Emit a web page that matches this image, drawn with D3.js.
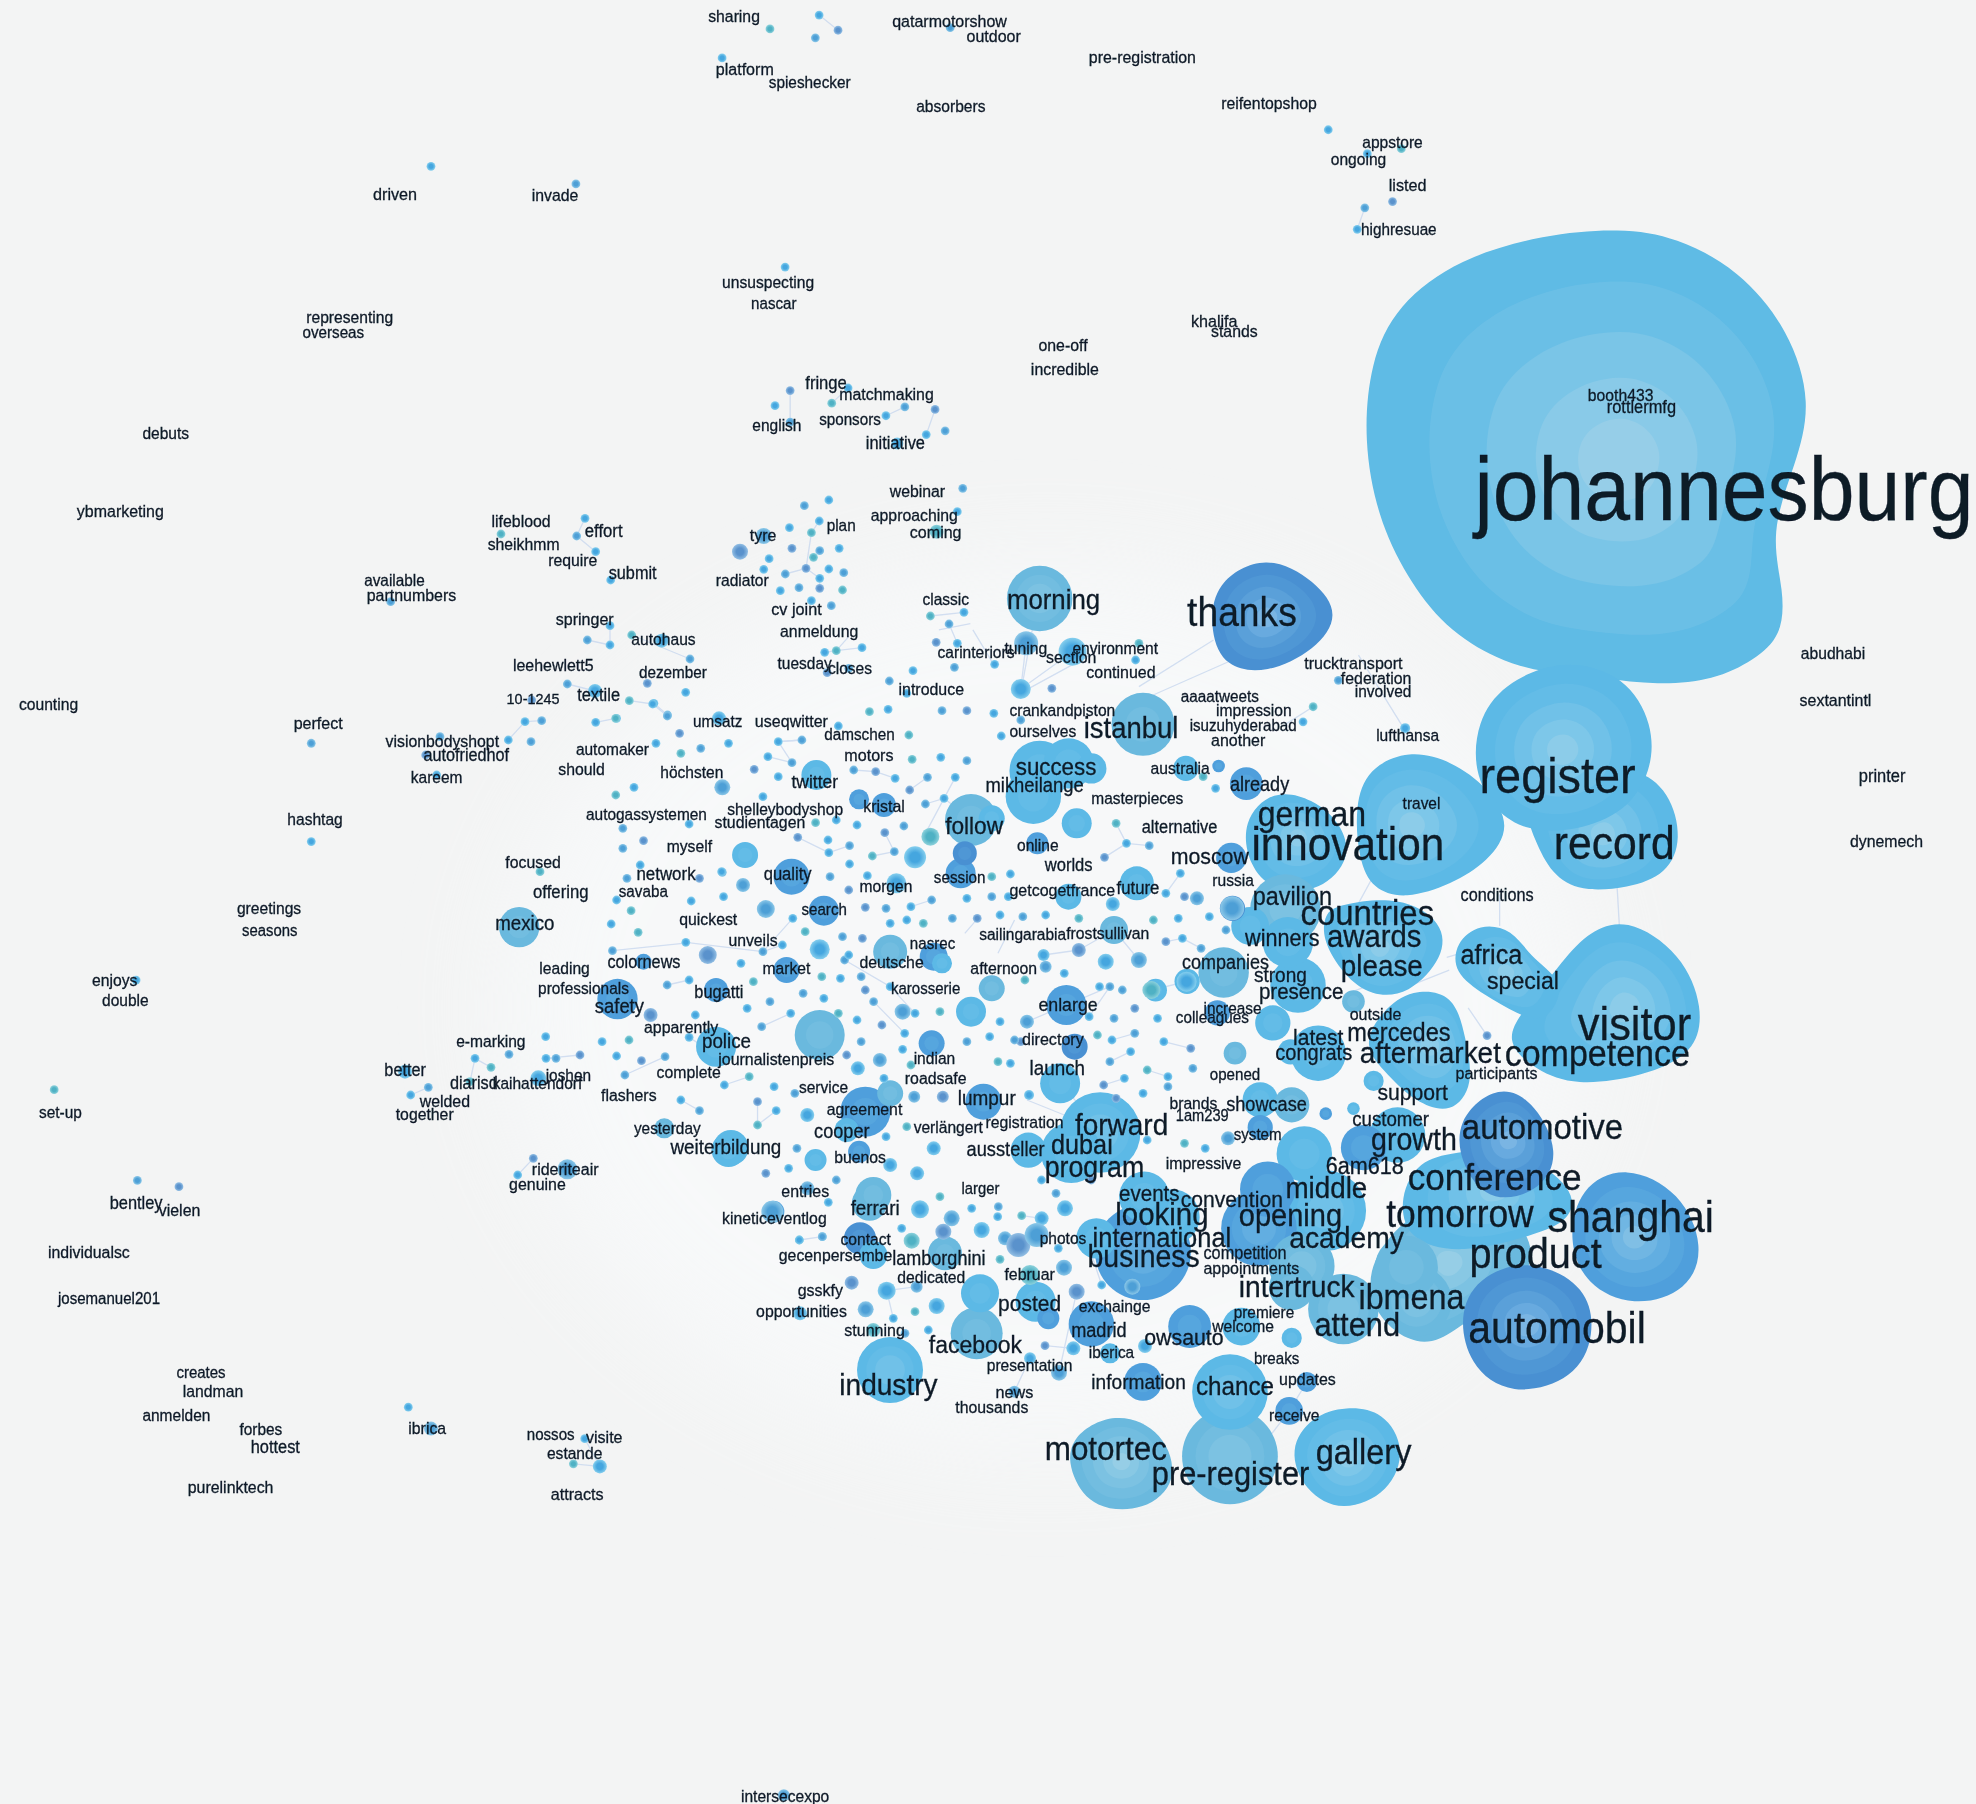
<!DOCTYPE html>
<html><head><meta charset="utf-8">
<script src="https://cdn.jsdelivr.net/npm/d3@7"></script>
<style>html,body{margin:0;padding:0;background:#f3f4f4}svg{display:block}text{font-family:"Liberation Sans",Arial,sans-serif}</style>
</head><body><svg id="c" width="1976" height="1804"></svg>
<script>
// ---------- word labels: [word, left, right, centre-line] in layout units ----------
const labelsTop = [["sharing",562,603,13],["qatarmotorshow",708,799,17],["outdoor",767,810,29],["pre-registration",864,949,46],["platform",568,614,55],["spieshecker",610,675,66],["absorbers",727,782,85],["reifentopshop",969,1045,82],["appstore",1081,1129,113],["ongoing",1056,1100,127],["listed",1102,1132,147],["highresuae",1080,1140,182],["driven",296,331,154],["invade",422,459,155],["unsuspecting",573,646,224],["nascar",596,632,241],["representing",243,312,252],["overseas",240,289,264],["khalifa",945,982,255],["stands",961,998,263],["one-off",824,863,274],["incredible",818,872,293],["fringe",639,672,304],["matchmaking",666,741,313],["booth433",1260,1312,314],["rottlermfg",1275,1330,323],["sponsors",650,699,333],["english",597,636,338],["debuts",113,150,344],["initiative",687,734,352],["johannesburg",1170,1566,390],["webinar",706,750,390],["ybmarketing",61,130,406],["approaching",691,760,409],["lifeblood",390,437,414],["effort",464,494,422],["coming",722,763,423],["tyre",595,616,425],["plan",656,679,417],["sheikhmm",387,444,432],["require",435,474,445],["submit",483,521,455],["available",289,337,461],["partnumbers",291,362,473],["radiator",568,610,461],["morning",799,873,476],["classic",732,769,476],["thanks",942,1029,487],["cv joint",612,652,484],["springer",441,487,492],["anmeldung",619,681,501],["autohaus",501,552,508]];
const labelsUpper = [["carinteriors",744,805,518],["tuning",797,831,515],["environment",851,919,515],["section",830,870,522],["tuesday",617,660,527],["closes",657,692,531],["trucktransport",1035,1113,527],["federation",1064,1120,539],["leehewlett5",407,471,528],["dezember",507,561,534],["continued",862,917,534],["involved",1075,1120,549],["introduce",713,765,547],["textile",458,492,552],["10-1245",402,444,555],["aaaatweets",937,999,553],["impression",965,1025,564],["crankandpiston",801,885,564],["counting",15,62,559],["isuzuhyderabad",944,1029,576],["umsatz",550,589,573],["useqwitter",599,657,573],["perfect",233,272,574],["ourselves",801,854,581],["istanbul",860,935,578],["damschen",654,710,583],["lufthansa",1092,1142,584],["another",961,1004,588],["visionbodyshopt",306,396,589],["automaker",457,515,595],["motors",670,709,600],["autofriedhof",336,404,600],["should",443,480,611],["höchsten",524,574,613],["kareem",326,367,617],["register",1174,1298,617],["success",806,870,609],["sextantintl",1428,1485,556],["abudhabi",1429,1480,519],["printer",1475,1512,616],["twitter",628,665,621],["australia",913,960,610],["mikheilange",782,860,624],["already",976,1023,623],["kristal",685,718,640],["masterpieces",866,939,634],["travel",1113,1143,638],["autogassystemen",465,561,647],["shelleybodyshop",577,669,643],["studientagen",567,639,653],["hashtag",228,272,651],["german",998,1084,647],["follow",750,796,656],["alternative",906,966,657],["dynemech",1468,1526,668],["innovation",993,1146,671],["record",1233,1329,670],["myself",529,565,672],["online",807,840,671],["moscow",929,991,680],["focused",401,445,685],["worlds",829,867,687],["network",505,552,694],["quality",606,644,694],["russia",962,995,699],["session",741,782,697],["morgen",682,724,704],["savaba",491,530,708],["offering",423,467,708],["getcogetfrance",801,885,707],["future",886,920,705],["pavilion",994,1057,712],["conditions",1159,1217,711]];
const labelsMiddle = [["search",636,672,722],["countries",1032,1138,725],["mexico",393,440,733],["quickest",539,585,730],["greetings",188,239,721],["seasons",192,236,739],["sailingarabia",777,846,742],["frostsullivan",846,912,741],["winners",988,1047,745],["awards",1053,1128,744],["unveils",578,617,747],["nasrec",722,758,749],["africa",1159,1208,758],["please",1064,1129,767],["leading",428,468,769],["colornews",482,540,764],["deutsche",682,733,764],["market",605,643,769],["afternoon",770,823,769],["companies",938,1007,764],["karosserie",707,762,785],["strong",995,1037,774],["special",1180,1237,779],["enjoys",73,109,778],["presence",999,1066,787],["professionals",427,499,785],["bugatti",551,590,788],["double",81,118,794],["safety",472,511,799],["enlarge",824,871,798],["increase",955,1001,801],["outside",1071,1112,805],["visitor",1252,1342,814],["colleagues",933,991,808],["apparently",511,570,816],["mercedes",1069,1151,820],["latest",1026,1066,824],["directory",811,860,825],["e-marking",362,417,827],["police",557,596,827],["indian",725,758,840],["aftermarket",1079,1191,836],["congrats",1012,1073,836],["competence",1194,1341,837],["journalistenpreis",570,662,841],["launch",817,861,848],["better",305,338,850],["complete",521,572,851],["joshen",433,469,854],["participants",1155,1220,852],["opened",960,1000,853],["diarisd",357,395,860],["kaihattendorf",391,462,860],["roadsafe",718,767,856],["service",634,673,863],["flashers",477,521,870],["support",1093,1149,867],["lumpur",760,806,872],["welded",333,373,874],["showcase",973,1037,877],["brands",928,966,876]];
const labelsLower = [["agreement",656,716,881],["set-up",31,65,883],["together",314,360,885],["1am239",933,975,886],["customer",1073,1134,889],["automotive",1160,1288,895],["forward",853,927,893],["verlängert",725,780,895],["registration",782,844,891],["yesterday",503,556,896],["cooper",646,690,898],["system",979,1017,901],["growth",1088,1156,905],["weiterbildung",532,620,911],["dubai",834,883,909],["aussteller",767,829,913],["buenos",662,703,919],["6am618",1052,1114,926],["program",829,908,927],["impressive",925,985,924],["rideriteair",422,475,928],["conference",1117,1255,935],["genuine",404,449,940],["middle",1020,1085,943],["larger",763,793,944],["entries",620,658,946],["events",888,936,948],["bentley",87,129,955],["convention",937,1018,952],["ferrari",675,714,959],["vielen",126,159,961],["tomorrow",1100,1217,964],["shanghai",1228,1360,967],["looking",885,959,964],["opening",983,1065,965],["kineticeventlog",573,656,967],["international",867,977,983],["academy",1023,1114,983],["contact",667,707,984],["photos",825,862,983],["individualsc",38,103,994],["product",1166,1271,996],["gecenpersembe",618,708,997],["business",863,952,998],["lamborghini",708,782,999],["competition",955,1021,995],["appointments",955,1031,1007],["dedicated",712,766,1014],["februar",797,837,1012],["intertruck",983,1075,1022],["gsskfy",633,669,1024],["ibmena",1078,1162,1030],["josemanuel201",46,127,1031],["posted",792,842,1035],["exchainge",856,913,1037],["opportunities",600,672,1041],["premiere",979,1027,1042],["attend",1043,1111,1052],["madrid",850,894,1056],["stunning",670,718,1056],["welcome",962,1011,1053],["automobil",1165,1306,1055],["owsauto",908,971,1062],["facebook",737,811,1068],["iberica",864,900,1074],["presentation",783,851,1084],["breaks",995,1031,1079],["creates",140,179,1090],["updates",1015,1060,1095],["information",866,941,1097],["industry",666,744,1100],["chance",949,1011,1101],["landman",145,193,1105],["news",790,820,1105],["thousands",758,816,1117],["anmelden",113,167,1124],["receive",1007,1047,1124],["forbes",190,224,1135],["ibrica",324,354,1134],["nossos",418,456,1139],["visite",465,494,1141],["hottest",199,238,1149],["motortec",829,926,1150],["estande",434,478,1154],["gallery",1044,1120,1153],["pre-register",914,1039,1170],["purelinktech",149,217,1181],["attracts",437,479,1186],["intersecexpo",588,658,1426]];

// ---------- hubs with irregular outlines: [shade, centre x, centre y, outline] ----------
const hubJohannesburg = ["sky5",1285,365,[[1286,181],[1330,188],[1380,214],[1420,262],[1438,320],[1425,368],[1404,423],[1416,470],[1414,505],[1392,524],[1360,540],[1315,544],[1272,538],[1225,534],[1188,524],[1146,498],[1116,458],[1093,410],[1082,350],[1087,288],[1108,242],[1158,205],[1225,186]]];
const hubRegister = ["sky",1240,595,[[1240,522],[1290,536],[1312,575],[1311,612],[1290,645],[1250,660],[1212,660],[1186,644],[1169,612],[1172,573],[1192,543]]];
const hubRecord = ["sky",1272,662,[[1298,608],[1325,628],[1335,666],[1323,694],[1292,705],[1254,708],[1231,694],[1218,667],[1208,640],[1238,627],[1270,620]]];
const hubInnovation = ["sky",1120,655,[[1118,595],[1152,604],[1181,625],[1200,656],[1181,684],[1152,702],[1115,714],[1089,706],[1078,682],[1075,640],[1085,610]]];
const hubGerman = ["sky",1030,665,[[1010,626],[1042,634],[1064,653],[1073,681],[1048,708],[1011,708],[991,688],[985,652]]];
const hubThanks = ["dark",1005,490,[[1005,439],[1044,461],[1064,488],[1044,516],[1005,535],[972,530],[960,502],[963,462]]];
const hubVisitor = ["sky",1290,800,[[1290,727],[1335,757],[1352,800],[1346,836],[1303,855],[1250,862],[1219,850],[1192,826],[1212,798],[1237,767],[1258,741]]];
const hubAwards = ["sky",1095,752,[[1062,718],[1111,711],[1146,732],[1146,760],[1118,790],[1088,791],[1066,774],[1049,746],[1051,725]]];
const hubProduct = ["pale",1150,1002,[[1128,960],[1192,954],[1222,990],[1205,1025],[1168,1045],[1142,1066],[1118,1066],[1090,1043],[1084,1009],[1106,976]]];
const hubConference = ["sky",1185,945,[[1153,915],[1202,909],[1252,944],[1246,969],[1218,980],[1160,996],[1116,985],[1110,950],[1126,921]]];
const hubAutomotive = ["dark",1197,905,[[1190,859],[1219,876],[1238,915],[1224,945],[1184,956],[1160,928],[1154,889]]];
const hubShanghai = ["blue",1297,982,[[1290,924],[1334,946],[1353,990],[1340,1025],[1296,1038],[1258,1020],[1244,985],[1253,942]]];
const hubAutomobil = ["dark",1212,1052,[[1216,999],[1260,1021],[1266,1060],[1250,1095],[1199,1109],[1165,1084],[1157,1040],[1176,1011]]];
const hubGallery = ["sky",1070,1158,[[1068,1116],[1098,1120],[1116,1150],[1103,1185],[1065,1201],[1035,1184],[1022,1150],[1041,1124]]];
const hubMotortec = ["pale",890,1160,[[885,1119],[924,1136],[936,1176],[908,1200],[868,1198],[850,1173],[846,1142]]];
const hubAfrica = ["sky",1195,772,[[1174,733],[1200,737],[1216,762],[1244,780],[1228,813],[1204,805],[1178,790],[1153,772],[1155,748]]];
const hubMercedes = ["sky",1135,830,[[1120,785],[1154,788],[1163,824],[1170,861],[1152,885],[1123,875],[1101,853],[1080,830],[1097,802]]];
const outlineHubs = [hubJohannesburg,hubVisitor,hubRecord,hubRegister,hubInnovation,hubGerman,hubThanks,hubAwards,hubMercedes,hubAfrica,hubProduct,hubConference,hubAutomotive,hubShanghai,hubAutomobil,hubMotortec,hubGallery];

// ---------- round hubs, layout units: [x, y, radius, shade] ----------
const roundHubs = [[1020,722,28,"pale"],[1022,748,20,"sky"],[978,721,10,"dark"],[992,735,15,"sky"],[977,681,12,"blue"],[989,622,13,"blue"],[941,610,10,"sky"],[967,608,5,"blue"],[971,772,20,"pale"],[942,779,10,"sky"],[917,786,9,"sky"],[1030,782,22,"sky"],[1074,795,9,"pale"],[1010,812,14,"sky"],[966,804,10,"blue"],[980,836,9,"pale"],[1046,836,22,"sky"],[1024,835,10,"sky"],[1090,858,8,"sky"],[1109,901,22,"sky"],[1082,911,18,"blue"],[1035,916,22,"sky"],[1000,873,14,"sky"],[1025,877,14,"pale"],[1000,895,10,"blue"],[1052,884,5,"blue"],[1074,880,5,"sky"],[1052,961,32,"sky"],[999,975,30,"blue"],[908,950,20,"sky"],[930,966,22,"sky"],[1006,944,22,"blue"],[907,994,38,"blue"],[870,983,16,"sky"],[1033,1005,26,"pale"],[1025,1022,18,"pale"],[1066,1039,28,"pale"],[1124,1033,28,"pale"],[1116,1006,25,"pale"],[873,899,32,"sky"],[850,915,24,"sky"],[816,913,14,"sky"],[944,1053,17,"blue"],[985,1053,15,"sky"],[1025,1062,8,"sky"],[907,1097,15,"blue"],[976,1105,30,"sky"],[976,1156,38,"pale"],[1037,1097,8,"blue"],[1023,1120,11,"blue"],[866,1051,18,"blue"],[825,475,26,"pale"],[907,575,25,"pale"],[825,612,24,"sky"],[848,606,20,"sky"],[820,632,22,"sky"],[866,610,12,"sky"],[412,736,16,"pale"],[490,793,16,"blue"],[690,955,14,"pale"],[580,911,14,"sky"]];

// ---------- medium hubs read on the centre view: [x, y, radius, shade] ----------
const centreHubs = [[522,225,15,"sky"],[625,298,10,"blue"],[685,315,12,"blue"],[895,360,26,"pale"],[945,355,13,"sky"],[880,460,12,"dark"],[870,520,15,"blue"],[462,530,18,"blue"],[350,465,13,"sky"],[540,632,15,"blue"],[450,810,13,"blue"],[280,870,12,"blue"],[105,785,8,"blue"],[530,1005,25,"pale"],[280,1040,20,"sky"],[700,755,17,"pale"],[805,770,14,"blue"],[825,790,10,"sky"],[945,865,13,"pale"],[895,935,15,"sky"],[1125,915,20,"blue"],[1145,1040,13,"dark"],[1110,1150,20,"sky"],[925,1205,18,"blue"],[640,1235,25,"blue"],[700,1180,13,"pale"],[595,1290,12,"sky"],[310,1350,17,"sky"],[155,1285,10,"pale"],[520,1380,11,"sky"],[625,1355,11,"blue"],[800,1030,13,"blue"],[1150,370,15,"sky"],[1240,690,14,"pale"],[1295,550,17,"sky"],[1130,590,13,"sky"],[1055,430,11,"blue"]];
// read on the lower view
const lowerHubs = [[340,275,11,"blue"],[600,355,16,"dark"],[640,405,14,"sky"],[855,400,17,"pale"],[960,520,19,"sky"],[950,640,26,"pale"],[690,750,33,"sky"],[1127,545,20,"sky"],[1165,595,11,"blue"],[640,225,18,"pale"],[1350,700,10,"sky"]];

// ---------- small word nodes, one array per reading view: [x, y, optional radius] ----------
const dotsCentre = [[130,10],[163,45],[40,55],[650,35],[695,28],[825,32],[885,32],[950,40],[1015,60],[575,78],[745,105],[430,125],[487,120],[192,100],[135,130],[243,145],[310,130],[195,160],[405,170],[463,188],[372,208],[430,230],[295,262,8],[82,262],[38,285],[393,290],[612,210],[665,215],[712,235],[790,232],[857,232],[753,178],[822,172],[885,182],[747,270],[830,295],[785,312],[968,108],[1455,230],[1485,265],[55,445],[105,422],[97,495],[65,535],[40,600],[75,632],[220,603],[295,517],[240,535],[298,590],[345,555,7],[27,672],[92,697],[207,727],[30,752],[260,765,9],[340,790],[393,755],[465,655],[495,695],[440,735],[400,627,9],[477,412],[550,420],[602,437],[552,458],[657,468],[602,492],[710,455],[687,398],[620,375],[733,378],[570,360],[520,368],[215,372],[55,385],[600,570],[645,527],[555,530],[760,472,11],[797,410,9],[715,550,10],[690,625],[640,622],[750,620],[800,600],[700,670],[780,670],[740,660],[850,655],[910,655],[965,645],[1020,650],[1075,645],[1155,655],[1237,612,7],[1440,595,7],[1410,590],[1365,580],[1525,625,12],[1400,520],[1245,370],[1270,430],[1325,437],[1217,472],[885,595],[945,590],[990,522],[945,530],[985,590],[585,710],[633,715],[530,748,10],[590,780],[600,765],[535,830],[580,835],[630,830],[640,870],[700,860],[490,880],[540,895],[575,940],[620,960],[660,905],[680,975],[735,1000],[730,935,8],[760,940],[820,935],[965,965],[1030,965,7],[1015,1025],[460,940],[410,905],[355,925],[370,845],[215,840],[162,855],[122,945,7],[230,945],[390,980],[215,1012],[70,1020],[5,1025],[157,1070],[100,1082],[40,1068],[60,1125],[300,1155],[360,1130],[420,1160],[470,1180],[380,1205],[425,1232],[240,1232],[195,1200],[380,1275],[500,1245,7],[630,1025],[595,1065],[622,1105,7],[675,1080,7],[730,1048],[750,1095],[685,1135],[758,1190,6],[827,1190,6],[1035,1185,5],[885,1025],[940,1010],[960,1085],[990,1090],[1000,1020],[1215,1155],[1265,1135],[1230,1085],[1280,1055],[1320,1110],[1370,1130],[1430,1105],[1425,1045],[1360,1025],[1290,1000],[1235,1020],[1200,1005],[1180,950],[1240,955],[1290,925],[1345,955],[1230,860],[1120,820],[1025,840],[1070,765,6],[1075,800,6],[1155,750,7],[1220,785,8],[1300,780,8],[1415,845,10],[1330,870,9],[1205,860],[1260,870],[1365,725],[1405,715],[1450,745],[1395,655],[1335,660],[1470,650],[1510,690],[1245,1195],[1310,1180],[1370,1160],[1320,1320],[1410,1330],[1460,1345],[1515,1315,7],[1185,1440],[1065,1440],[1100,1480],[805,1345,7],[740,1280],[690,1310],[475,1345],[400,1420],[455,1405],[570,1440],[765,1420,7],[820,1490],[700,1395,7]];
const dotsUpper = [[552,60],[493,77],[529,123],[510,158],[457,143],[395,168,8],[463,205],[408,236],[530,212],[577,205],[515,232],[395,268],[447,282],[497,265],[552,267],[588,278],[530,295],[585,330],[435,332],[480,323],[530,325],[510,362],[558,377],[632,503],[570,512],[542,517],[600,565],[548,578],[755,572],[698,603],[740,640],[797,408],[878,397],[842,432],[811,487],[862,490],[875,25],[862,95],[812,155,7],[952,553],[855,562],[1090,625],[1015,627,10],[1028,490,12],[1140,515,14],[1300,490],[1292,540]];
const dotsLeft = [[675,115],[650,168],[707,215],[423,162],[752,300],[92,365],[1140,215,8],[750,437],[682,480],[750,495],[815,465],[905,482,7],[990,537],[862,610],[977,637],[622,612],[705,633,7],[808,662],[878,672],[922,708],[515,660],[495,725],[545,722],[707,727],[767,715],[445,780],[513,785],[197,825],[230,885],[240,770],[1077,715,7],[540,1175],[1085,1175]];
const dotsLower = [[557,470],[447,523],[345,535],[393,562],[558,535],[588,535],[660,525],[135,575,7],[205,622],[152,645],[330,605],[535,595,8],[622,868,10],[520,835],[473,885],[1237,995,11],[1405,967],[1318,1080],[1387,1070],[1342,925,7]];
const dotsBottom = [[418,360],[487,350],[725,325],[755,362,8],[780,268,9],[875,295,8],[850,335,8],[935,265],[1015,260],[1013,290],[1085,287],[965,330,8],[1035,355,7],[1075,375,12],[1145,295,7],[1130,345,12],[1215,265,8],[1020,418],[1195,385],[1212,443,8],[575,488,7],[680,512,9],[617,568,8],[700,595],[765,575],[830,558,8],[770,500,6],[1250,515,8],[1325,495],[1417,500,8],[420,580,7],[640,630,7],[805,630],[735,640],[1155,677],[1240,685,7],[1197,758,8],[1110,715,6],[1110,465,10],[1455,678,7],[1063,815,6]];
const dotsSparse = [[342,132],[457,146],[623,212],[611,23],[650,12],[647,30],[665,24],[573,46],[754,22],[1054,103],[1112,118],[1085,122],[1083,165],[1105,160],[1077,182],[247,590],[247,668],[43,865],[108,778],[109,937],[142,942],[324,1117],[342,1134,7],[476,1164,7],[455,1162],[464,1142],[622,1425,6],[627,310],[615,322],[627,335],[673,308],[660,320],[703,330],[718,323],[742,325],[735,345],[750,342],[712,352,6],[1042,561],[1034,573],[1062,540],[1180,822],[1115,578,5],[1125,825]];

// ---------- links between words, layout units and centre view ----------
const linksLayout = [[1283,700,1285,735],[1115,580,1078,520],[1032,500,885,565],[1190,710,1190,735],[1148,760,1165,755],[1180,822,1165,800],[1120,640,1060,750],[907,1130,907,1160],[1023,1120,1000,1150],[1037,1097,1023,1120],[1105,788,1150,770],[1066,790,1105,775],[820,495,810,550],[810,550,865,520],[745,500,770,495],[772,500,790,530],[627,310,627,335],[660,320,673,308],[735,345,742,325],[718,323,703,330],[650,12,665,24],[1042,561,1020,575],[455,1162,476,1164],[464,1142,476,1164],[1083,165,1077,182]];
const linksCentre = [[30,752,200,730],[207,727,393,755],[393,755,465,655],[440,735,393,755],[130,10,163,45],[430,125,487,120],[430,125,463,188],[487,120,430,125],[405,170,463,188],[612,210,665,215],[665,215,712,235],[747,270,790,232],[830,295,857,232],[830,295,785,400],[785,312,830,295],[895,360,830,295],[880,460,895,360],[870,520,880,460],[552,458,477,412],[552,458,602,437],[657,468,710,455],[687,398,710,455],[1245,370,1270,430],[1270,430,1325,437],[1270,430,1217,472],[1365,725,1405,715],[800,600,750,620],[915,650,880,700],[960,760,1000,660],[1030,965,1230,860],[590,780,700,860],[700,860,760,940],[660,905,735,1000],[460,940,390,980],[215,840,162,855],[215,1012,250,1040],[157,1070,60,1125],[300,1155,360,1130],[240,1232,195,1200],[380,1205,380,1275],[425,1232,380,1275],[1215,1155,1265,1135],[1230,1085,1280,1055],[1320,1110,1370,1130],[1425,1045,1360,1025],[1290,1000,1235,1020],[1110,1150,1210,1290],[1030,1200,1210,1290],[1330,870,1415,845],[1155,750,1070,765],[1240,690,1155,750],[1400,520,1365,580],[1300,780,1240,690],[1450,745,1405,715],[1180,950,1230,860]];
const linksUpper = [[878,397,797,408],[842,432,862,490],[1015,627,1028,490],[1015,627,1140,515],[530,295,497,265],[497,265,510,158],[510,158,529,123],[497,265,447,282],[530,295,530,325],[570,512,632,503],[570,512,600,470],[542,517,570,512],[1300,620,1480,480]];
const linksLeft = [[650,168,707,215],[682,480,750,495],[750,437,750,495],[878,672,922,708],[707,727,767,715],[495,725,545,722],[495,725,445,780],[815,465,990,537],[808,662,878,672],[622,612,705,633],[650,168,675,115]];
const linksLower = [[345,535,393,562],[558,535,660,525],[205,622,152,645],[330,605,345,535],[473,885,520,835]];
const linksBottom = [[418,360,487,350],[680,512,700,595],[770,500,680,512],[1155,677,1240,685],[1110,715,1063,815],[1325,495,1285,375],[1250,515,1197,758],[1145,295,1130,345],[1085,287,1145,295]];

// ---------- reading views: how each array's numbers map onto the page ----------
const pageW = 1976, pageH = 1804;
const layoutX = d3.scaleLinear([0,1568],[0,pageW]), layoutY = d3.scaleLinear([0,1432],[0,pageH]);
const viewScale = (dx,dy,x0,y0,w,h)=>({x:d3.scaleLinear([0,dx],[x0,x0+w]), y:d3.scaleLinear([0,dy],[y0,y0+h])});
const viewCentre = viewScale(1568,1500,600,700,650,500);
const viewUpper  = viewScale(1568,1050,600,480,650,350);
const viewLeft   = viewScale(1200,1200,360,480,400,400);
const viewLower  = viewScale(1500,1200,360,880,500,400);
const viewBottom = viewScale(1500,1050,660,1120,500,350);
const viewLayout = {x:layoutX,y:layoutY};

const shades = {
 sky5:["#5fbbe5","#6bbfe6","#7ac5e7","#89cae8","#96cee8"],
 sky:["#5cb9e6","#64bce7","#70c1e8","#7dc7e9","#8ccce9"],
 blue:["#509fdc","#57a6de","#62aee1","#70b6e3","#80bfe5"],
 dark:["#4a90d2","#5097d5","#5aa0d9","#68aadf","#7ab5e3"],
 pale:["#6ab9de","#72bde0","#7cc2e2","#88c8e4","#96cee6"]
};
const ringFactor = [1,.78,.56,.36,.18];
const ringRound = [0,.35,.6,.8,.92];   // how far each inner ring relaxes towards a circle
const dotPalette = d3.scaleOrdinal(["url(#dA)","url(#dB)","url(#dA)","url(#dC)","url(#dA)","url(#dB)","url(#dD)"]);

const svg = d3.select("#c");
const defs = svg.append("defs");
defs.append("filter").attr("id","soft").append("feGaussianBlur").attr("stdDeviation",0.45);
defs.append("filter").attr("id","softer").attr("x","-30%").attr("y","-30%").attr("width","160%").attr("height","160%").append("feGaussianBlur").attr("stdDeviation",50);
[["dA","#45a6df","#86cfee"],["dB","#4d9fd6","#8cc8e8"],["dC","#4fb1c4","#8ed2dc"],["dD","#5a92cc","#93bfe4"]].forEach(([id,a,b])=>{
  const g=defs.append("radialGradient").attr("id",id);
  g.append("stop").attr("offset","45%").attr("stop-color",a);
  g.append("stop").attr("offset","100%").attr("stop-color",b);
});
svg.append("rect").attr("width",pageW).attr("height",pageH).attr("fill","#f3f4f4");
svg.append("ellipse").attr("cx",layoutX(830)).attr("cy",layoutY(800)).attr("rx",540).attr("ry",440).attr("fill","#fbfdfe").attr("opacity",.55).attr("filter","url(#softer)");

const root = svg.append("g").attr("filter","url(#soft)");
const gLinks = root.append("g").attr("fill","none").attr("stroke","#c6d6ee").attr("stroke-width",1.3).attr("opacity",.75);
const gHubs = root.append("g"), gDots = root.append("g"), gText = root.append("g");

function drawLinks(rows,v){
  gLinks.append("g").selectAll("line").data(rows).join("line")
   .attr("x1",d=>v.x(d[0])).attr("y1",d=>v.y(d[1])).attr("x2",d=>v.x(d[2])).attr("y2",d=>v.y(d[3]));
}
[[linksLayout,viewLayout],[linksCentre,viewCentre],[linksUpper,viewUpper],[linksLeft,viewLeft],[linksLower,viewLower],[linksBottom,viewBottom]].forEach(([r,v])=>drawLinks(r,v));

const closed = d3.line().curve(d3.curveBasisClosed);
function drawOutline(h){
  const [shade,cx,cy,pts]=h, px=layoutX(cx), py=layoutY(cy);
  const offs=pts.map(p=>[layoutX(p[0])-px, layoutY(p[1])-py]);
  const meanR=d3.mean(offs,o=>Math.hypot(o[0],o[1]));
  gHubs.append("g").selectAll("path").data(ringFactor).join("path")
   .attr("fill",(d,i)=>shades[shade][i])
   .attr("d",(f,i)=>closed(offs.map(o=>{
      const t=ringRound[i], k=meanR/Math.hypot(o[0],o[1]);
      const m=(1-t)+t*k;
      return [px+o[0]*f*m, py+o[1]*f*m];
   })));
}
outlineHubs.forEach(drawOutline);

function drawRound(rows,v,rScale){
  rows.slice().sort((a,b)=>b[2]-a[2]).forEach(h=>{
    const [x,y,r,shade]=h, R=r*rScale;
    const rings=R>32?[1,.72,.45]:[1,.55];
    gHubs.append("g").selectAll("circle").data(rings).join("circle")
     .attr("cx",v.x(x)).attr("cy",v.y(y)).attr("r",f=>R*f).attr("fill",(d,i)=>shades[shade][i]);
  });
}
drawRound(roundHubs,viewLayout,1.26);
drawRound(centreHubs,viewCentre,1);
drawRound(lowerHubs,viewBottom,1);

function drawDots(rows,v){
  gDots.append("g").selectAll("circle").data(rows).join("circle")
   .attr("cx",d=>v.x(d[0])).attr("cy",d=>v.y(d[1]))
   .attr("r",d=>d[2]||4.4).attr("fill",(d,i)=>dotPalette(i%7));
}
[[dotsCentre,viewCentre],[dotsUpper,viewUpper],[dotsLeft,viewLeft],[dotsLower,viewLower],[dotsBottom,viewBottom],[dotsSparse,viewLayout]].forEach(([r,v])=>drawDots(r,v));

// each word spans its left..right extent in a slightly condensed setting of the type
const condense = 0.93;
const allLabels=[...labelsTop,...labelsUpper,...labelsMiddle,...labelsLower];
gText.selectAll("text").data(allLabels).join("text")
  .text(d=>d[0]).attr("font-size",100).attr("fill","#0c1a27")
  .attr("stroke","#0c1a27").attr("stroke-width",0.3)
  .attr("text-anchor","middle").attr("dy","0.32em")
  .each(function(d){
    const want=layoutX(d[2])-layoutX(d[1]);
    const size=100*want/this.getComputedTextLength()/condense;
    d3.select(this).attr("font-size",size).attr("x",layoutX((d[1]+d[2])/2)).attr("y",layoutY(d[3]))
      .attr("textLength",want).attr("lengthAdjust","spacingAndGlyphs");
  });
</script></body></html>
